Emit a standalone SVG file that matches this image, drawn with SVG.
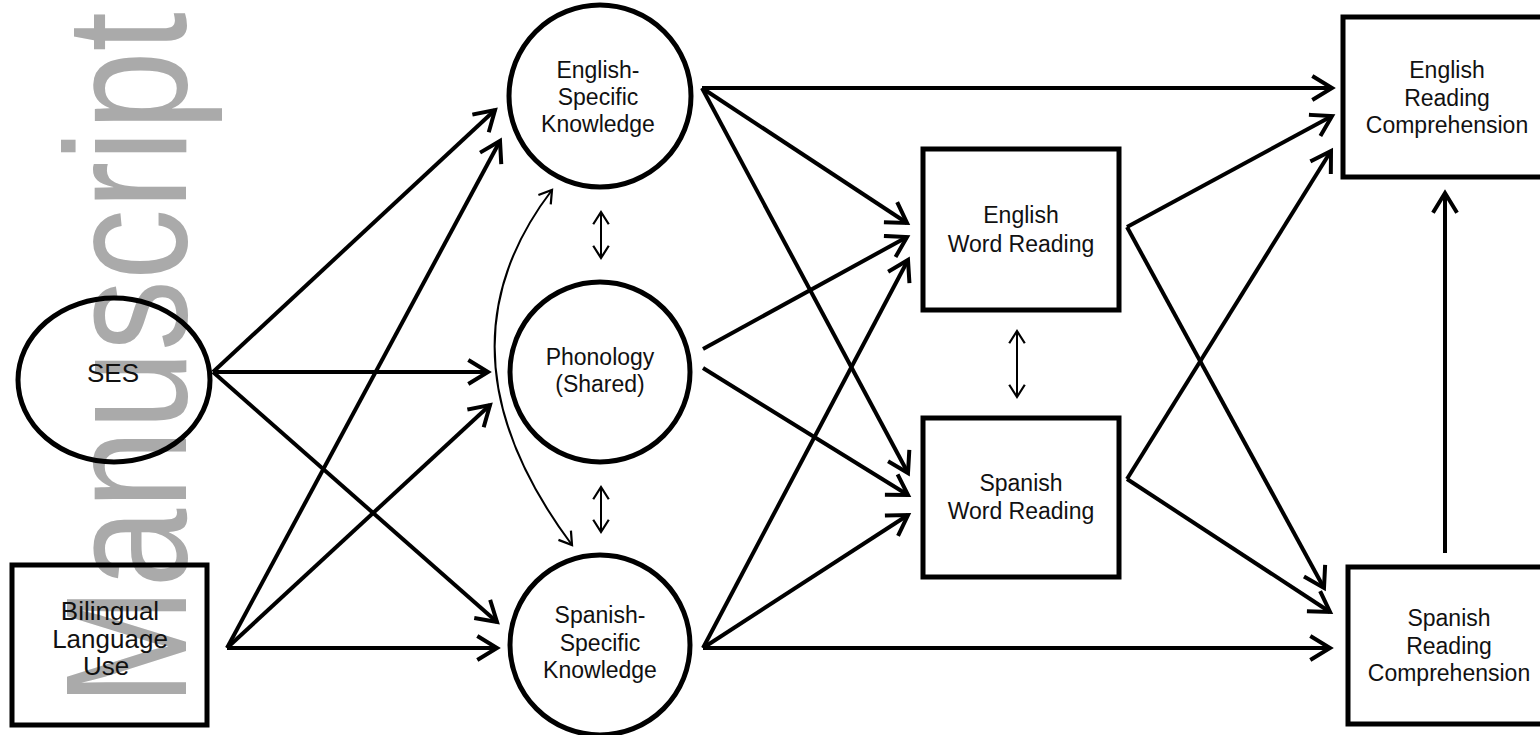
<svg xmlns="http://www.w3.org/2000/svg" width="1540" height="735" viewBox="0 0 1540 735">
<style>
.wm{font-family:"Liberation Sans",Arial,sans-serif;fill:#aaaaaa}
.lbl{font-family:"Liberation Sans",Arial,sans-serif;font-size:23px;fill:#111;text-anchor:middle}
.big{font-size:26px}
.node{fill:none;stroke:#000;stroke-width:5}
.thick{fill:none;stroke:#000;stroke-width:4}
.thin{fill:none;stroke:#000;stroke-width:2}
</style>
<defs>
<marker id="ah" markerUnits="userSpaceOnUse" markerWidth="30" markerHeight="30" refX="0" refY="0" viewBox="-22 -15 26 30" orient="auto">
<path d="M-18,-11 L0,0 L-18,11" fill="none" stroke="#000" stroke-width="4" stroke-linecap="square"/>
</marker>
<marker id="ahs" markerUnits="userSpaceOnUse" markerWidth="20" markerHeight="20" refX="0" refY="0" viewBox="-14 -9 16 18" orient="auto-start-reverse">
<path d="M-11,-7 L0,0 L-11,7" fill="none" stroke="#000" stroke-width="2"/>
</marker>
</defs>
<rect width="1540" height="735" fill="#fff"/>
<text class="wm" font-size="173" transform="translate(186,12) rotate(-90) scale(0.82,1)" text-anchor="end">Author Manuscript</text>
<g id="connectors">
<line class="thick" x1="213" y1="372" x2="495" y2="110" marker-end="url(#ah)"/>
<line class="thick" x1="213" y1="372" x2="488" y2="372" marker-end="url(#ah)"/>
<line class="thick" x1="213" y1="372" x2="497" y2="622" marker-end="url(#ah)"/>
<line class="thick" x1="227" y1="648" x2="500" y2="141" marker-end="url(#ah)"/>
<line class="thick" x1="227" y1="648" x2="490" y2="405" marker-end="url(#ah)"/>
<line class="thick" x1="227" y1="648" x2="497" y2="648" marker-end="url(#ah)"/>
<line class="thick" x1="702" y1="88" x2="1332" y2="88" marker-end="url(#ah)"/>
<line class="thick" x1="702" y1="88" x2="907" y2="223" marker-end="url(#ah)"/>
<line class="thick" x1="702" y1="88" x2="908" y2="473" marker-end="url(#ah)"/>
<line class="thick" x1="703" y1="349" x2="907" y2="237" marker-end="url(#ah)"/>
<line class="thick" x1="703" y1="368" x2="908" y2="495" marker-end="url(#ah)"/>
<line class="thick" x1="703" y1="648" x2="908" y2="260" marker-end="url(#ah)"/>
<line class="thick" x1="703" y1="648" x2="908" y2="515" marker-end="url(#ah)"/>
<line class="thick" x1="703" y1="648" x2="1330" y2="648" marker-end="url(#ah)"/>
<line class="thick" x1="1127" y1="227" x2="1332" y2="116" marker-end="url(#ah)"/>
<line class="thick" x1="1127" y1="227" x2="1324" y2="588" marker-end="url(#ah)"/>
<line class="thick" x1="1127" y1="479" x2="1331" y2="151" marker-end="url(#ah)"/>
<line class="thick" x1="1127" y1="479" x2="1330" y2="612" marker-end="url(#ah)"/>
<line class="thick" x1="1445" y1="553" x2="1445" y2="193" marker-end="url(#ah)"/>
<line class="thin" x1="601" y1="212" x2="601" y2="258" marker-start="url(#ahs)" marker-end="url(#ahs)"/>
<line class="thin" x1="601" y1="487" x2="601" y2="532" marker-start="url(#ahs)" marker-end="url(#ahs)"/>
<line class="thin" x1="1017" y1="331" x2="1017" y2="397" marker-start="url(#ahs)" marker-end="url(#ahs)"/>
<path class="thin" d="M552,190 Q428,352 572,545" marker-start="url(#ahs)" marker-end="url(#ahs)"/>
</g>
<g id="ses">
<ellipse class="node" cx="114" cy="380" rx="96" ry="82"/>
<text class="lbl big" x="113" y="382">SES</text>
</g>
<g id="bilingual">
<rect class="node" x="12" y="565" width="195" height="160"/>
<text class="lbl big" x="110" y="620">Bilingual</text>
<text class="lbl big" x="110" y="648">Language</text>
<text class="lbl big" x="106" y="675">Use</text>
</g>
<g id="english-specific">
<circle class="node" cx="600" cy="96" r="91"/>
<text class="lbl" x="598" y="78">English-</text>
<text class="lbl" x="598" y="105">Specific</text>
<text class="lbl" x="598" y="132">Knowledge</text>
</g>
<g id="phonology">
<circle class="node" cx="600" cy="372" r="90"/>
<text class="lbl" x="600" y="365">Phonology</text>
<text class="lbl" x="600" y="392">(Shared)</text>
</g>
<g id="spanish-specific">
<circle class="node" cx="600" cy="645" r="90"/>
<text class="lbl" x="600" y="623">Spanish-</text>
<text class="lbl" x="600" y="651">Specific</text>
<text class="lbl" x="600" y="678">Knowledge</text>
</g>
<g id="english-word-reading">
<rect class="node" x="923" y="149" width="196" height="161"/>
<text class="lbl" x="1021" y="223">English</text>
<text class="lbl" x="1021" y="252">Word Reading</text>
</g>
<g id="spanish-word-reading">
<rect class="node" x="923" y="418" width="196" height="159"/>
<text class="lbl" x="1021" y="491">Spanish</text>
<text class="lbl" x="1021" y="519">Word Reading</text>
</g>
<g id="english-reading-comprehension">
<rect class="node" x="1343" y="17" width="220" height="160"/>
<text class="lbl" x="1447" y="78">English</text>
<text class="lbl" x="1447" y="106">Reading</text>
<text class="lbl" x="1447" y="133">Comprehension</text>
</g>
<g id="spanish-reading-comprehension">
<rect class="node" x="1348" y="567" width="220" height="157"/>
<text class="lbl" x="1449" y="626">Spanish</text>
<text class="lbl" x="1449" y="654">Reading</text>
<text class="lbl" x="1449" y="681">Comprehension</text>
</g>
</svg>
